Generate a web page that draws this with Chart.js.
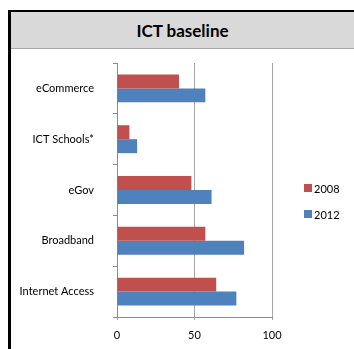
<!DOCTYPE html>
<html>
<head>
<meta charset="utf-8">
<script src="https://cdn.jsdelivr.net/npm/chart.js@4"></script>
<style>
body { margin: 0; background: #fff; width: 354px; height: 349px; overflow: hidden; position: relative; font-family: Lato, "Open Sans", sans-serif; }
.frame-left { position: absolute; left: 8px; top: 10px; width: 3px; height: 339px; background: #000; }
.frame-top { position: absolute; left: 8px; top: 10px; width: 346px; height: 2px; background: #000; }
.header { position: absolute; left: 11px; top: 12px; width: 343px; height: 36px; background: #d9d9d9; border-bottom: 1px solid #a6a6a6;
  text-align: center; line-height: 38px; font-weight: bold; font-size: 17px; color: #000; }
#chart { position: absolute; left: 11px; top: 49px; }
</style>
</head>
<body>
<div class="frame-top"></div>
<div class="frame-left"></div>
<div class="header">ICT baseline</div>
<canvas id="chart" width="343" height="300"></canvas>
<script>
// 数据
const categories = ['eCommerce', 'ICT Schools*', 'eGov', 'Broadband', 'Internet Access'];
const seriesNames = ['2008', '2012'];
const values2008 = [40, 8, 48, 57, 64];
const values2012 = [57, 13, 61, 82, 77];
const xTicks = [0, 50, 100];

const red = '#c0504d';
const blue = '#4f81bd';
const font = { family: 'Lato, "Open Sans", sans-serif', size: 11 };

// 右侧图例
const sideLegend = {
    id: 'sideLegend',
    afterDraw(chart) {
        const { ctx, chartArea } = chart;
        const x = chartArea.right + 32;
        const mid = (chartArea.top + chartArea.bottom) / 2 + 11;
        ctx.save();
        ctx.font = font.size + 'px ' + font.family;
        ctx.textBaseline = 'middle';
        ctx.textAlign = 'left';
        chart.data.datasets.forEach((ds, i) => {
            const y = mid - 13 + i * 26;
            ctx.fillStyle = ds.backgroundColor;
            ctx.fillRect(x, y - 4, 8, 8);
            ctx.fillStyle = '#000';
            ctx.fillText(ds.label, x + 10, y + 1);
        });
        ctx.restore();
    }
};

new Chart(document.getElementById('chart'), {
    type: 'bar',
    data: {
        labels: categories,
        datasets: [
            { label: seriesNames[0], data: values2008, backgroundColor: red },
            { label: seriesNames[1], data: values2012, backgroundColor: blue }
        ]
    },
    options: {
        indexAxis: 'y',
        responsive: false,
        devicePixelRatio: 1,
        animation: false,
        categoryPercentage: 0.55,
        barPercentage: 1.0,
        layout: { padding: { top: 14, right: 82, left: 0, bottom: 0 } },
        plugins: {
            legend: { display: false },
            tooltip: { enabled: false }
        },
        scales: {
            x: {
                min: 0,
                max: 100,
                afterBuildTicks: scale => { scale.ticks = xTicks.map(v => ({ value: v })); },
                afterFit: scale => { scale.height = 32; scale.paddingLeft = 0; scale.paddingRight = 0; },
                grid: {
                    drawTicks: true,
                    tickLength: 3,
                    tickColor: '#a6a6a6',
                    color: c => (c.tick && c.tick.value === 0) ? 'rgba(0,0,0,0)' : '#a6a6a6'
                },
                border: { color: '#8c8c8c' },
                ticks: { font: font, color: '#000', padding: 9 }
            },
            y: {
                afterFit: scale => { scale.width = 106; scale.paddingTop = 0; scale.paddingBottom = 0; },
                grid: { drawOnChartArea: false, drawTicks: true, tickLength: 4, color: '#8c8c8c', offset: true },
                border: { color: '#8c8c8c' },
                ticks: { font: font, color: '#000', padding: 19 }
            }
        }
    },
    plugins: [sideLegend]
});
</script>
</body>
</html>
